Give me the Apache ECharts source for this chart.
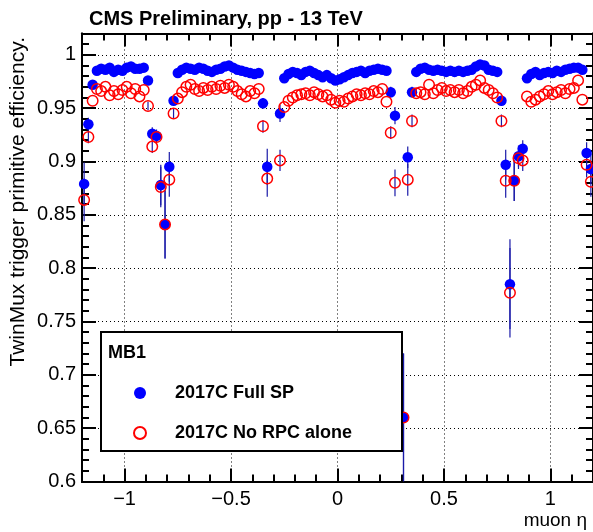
<!DOCTYPE html>
<html>
<head>
<meta charset="utf-8">
<script src="https://cdn.jsdelivr.net/npm/echarts@6/dist/echarts.min.js"></script>
<style>
html,body{margin:0;padding:0;background:#fff;}
#chart{width:593px;height:532px;}
</style>
</head>
<body>
<div id="chart"></div>
<script>
// ---- data ----
const chartTitle = "CMS Preliminary, pp - 13 TeV";
const yTitle = "TwinMux trigger primitive efficiency.";
const xTitle = "muon \u03b7";
const legendHeader = "MB1";
const seriesNames = ["2017C Full SP", "2017C No RPC alone"];

const xTicks = [-1, -0.5, 0, 0.5, 1];
const yTicks = [0.6, 0.65, 0.7, 0.75, 0.8, 0.85, 0.9, 0.95, 1.0];

const etaBins = [
  -1.19,-1.17,-1.15,-1.13,-1.11,-1.09,-1.07,-1.05,-1.03,-1.01,
  -0.99,-0.97,-0.95,-0.93,-0.91,-0.89,-0.87,-0.85,-0.83,-0.81,
  -0.79,-0.77,-0.75,-0.73,-0.71,-0.69,-0.67,-0.65,-0.63,-0.61,
  -0.59,-0.57,-0.55,-0.53,-0.51,-0.49,-0.47,-0.45,-0.43,-0.41,
  -0.39,-0.37,-0.35,-0.33,-0.31,-0.29,-0.27,-0.25,-0.23,-0.21,
  -0.19,-0.17,-0.15,-0.13,-0.11,-0.09,-0.07,-0.05,-0.03,-0.01,
   0.01, 0.03, 0.05, 0.07, 0.09, 0.11, 0.13, 0.15, 0.17, 0.19,
   0.21, 0.23, 0.25, 0.27, 0.29, 0.31, 0.33, 0.35, 0.37, 0.39,
   0.41, 0.43, 0.45, 0.47, 0.49, 0.51, 0.53, 0.55, 0.57, 0.59,
   0.61, 0.63, 0.65, 0.67, 0.69, 0.71, 0.73, 0.75, 0.77, 0.79,
   0.81, 0.83, 0.85, 0.87, 0.89, 0.91, 0.93, 0.95, 0.97, 0.99,
   1.01, 1.03, 1.05, 1.07, 1.09, 1.11, 1.13, 1.15, 1.17, 1.19
];

const fullSP = [
  0.879,0.935,0.972,0.985,0.987,0.986,0.988,0.984,0.986,0.985,
  0.988,0.989,0.987,0.987,0.988,0.976,0.926,0.924,0.878,0.841,
  0.895,0.957,0.983,0.986,0.988,0.987,0.986,0.988,0.987,0.985,
  0.984,0.986,0.987,0.989,0.990,0.988,0.986,0.985,0.984,0.983,
  0.982,0.983,0.9545,0.895,null,null,0.945,0.978,0.982,0.984,
  0.983,0.981,0.984,0.985,0.983,0.981,0.979,0.981,0.978,0.976,
  0.977,0.979,0.981,0.983,0.984,0.985,0.983,0.985,0.986,0.987,
  0.986,0.985,0.965,0.943,null,0.660,0.904,0.965,0.984,0.987,
  0.988,0.986,0.985,0.986,0.985,0.984,0.985,0.984,0.985,0.984,
  0.985,0.986,0.989,0.991,0.990,0.986,0.985,0.984,0.957,0.897,
  0.785,0.882,0.905,0.912,0.978,0.982,0.984,0.981,0.983,0.984,
  0.983,0.985,0.984,0.986,0.987,0.988,0.988,0.986,0.908,0.893
];
const fullSPErr = [
  0.02,0.006,0,0,0,0,0,0,0,0,
  0,0,0,0,0,0.004,0.006,0.006,0.019,0.032,
  0.014,0.005,0,0,0,0,0,0,0,0,
  0,0,0,0,0,0,0,0,0,0,
  0,0,0.005,0.017,0,0,0.008,0,0,0,
  0,0,0,0,0,0,0,0,0,0,
  0,0,0,0,0,0,0,0,0,0,
  0,0,0.005,0.008,0,0.06,0.01,0.005,0,0,
  0,0,0,0,0,0,0,0,0,0,
  0,0,0,0,0,0,0,0,0.005,0.014,
  0.042,0.019,0.01,0.008,0,0,0,0,0,0,
  0,0,0,0,0,0,0,0,0.01,0.014
];
const noRPC = [
  0.864,0.923,0.957,0.968,0.966,0.970,0.962,0.966,0.963,0.967,
  0.970,0.964,0.968,0.961,0.967,0.952,0.914,0.923,0.876,0.841,
  0.883,0.945,0.959,0.965,0.970,0.972,0.968,0.966,0.969,0.967,
  0.970,0.968,0.971,0.969,0.972,0.970,0.966,0.963,0.961,0.966,
  0.964,0.968,0.933,0.884,null,null,0.901,0.951,0.957,0.960,
  0.962,0.963,0.964,0.962,0.965,0.963,0.961,0.962,0.958,0.955,
  0.957,0.956,0.959,0.961,0.963,0.962,0.964,0.963,0.966,0.965,
  0.968,0.956,0.927,0.880,null,0.660,0.883,0.938,0.964,0.965,
  0.963,0.972,0.964,0.967,0.969,0.966,0.967,0.965,0.967,0.964,
  0.966,0.970,0.972,0.976,0.969,0.967,0.964,0.960,0.938,0.882,
  0.777,0.882,0.903,0.901,0.961,0.956,0.958,0.961,0.963,0.966,
  0.963,0.965,0.967,0.964,0.968,0.969,0.976,0.958,0.897,0.881
];
const noRPCErr = [
  0.02,0.006,0,0,0,0,0,0,0,0,
  0,0,0,0,0,0.004,0.006,0.006,0.019,0.032,
  0.016,0.005,0,0,0,0,0,0,0,0,
  0,0,0,0,0,0,0,0,0,0,
  0,0,0.006,0.017,0,0,0.01,0,0,0,
  0,0,0,0,0,0,0,0,0,0,
  0,0,0,0,0,0,0,0,0,0,
  0,0,0.006,0.0125,0,0.06,0.015,0.006,0,0,
  0,0,0,0,0,0,0,0,0,0,
  0,0,0,0,0,0,0,0,0.006,0.016,
  0.042,0.019,0.01,0.01,0,0,0,0,0,0,
  0,0,0,0,0,0,0,0,0.012,0.014
];

// ---- chart ----
const FONT = "'Liberation Sans', Arial, Helvetica, sans-serif";
const xMin = -1.2, xMax = 1.2, yMin = 0.6, yMax = 1.02;

function points(vals) {
  const out = [];
  etaBins.forEach((e, i) => { if (vals[i] != null) out.push([e, vals[i]]); });
  return out;
}
function bars(vals, errs) {
  const out = [];
  etaBins.forEach((e, i) => {
    if (vals[i] != null && errs[i] > 0) out.push([e, vals[i] - errs[i], vals[i] + errs[i]]);
  });
  return out;
}
function errRender(params, api) {
  const x = api.value(0);
  const lo = api.coord([x, api.value(1)]);
  const hi = api.coord([x, api.value(2)]);
  return { type: 'line', shape: { x1: lo[0], y1: lo[1], x2: hi[0], y2: hi[1] },
           style: { stroke: '#1a1aa8', lineWidth: 1.2 } };
}
const fmt = v => String(Math.round(v * 100) / 100).replace('-', '\u2212');

const axisLine = { show: true, onZero: false, lineStyle: { color: '#000', width: 2 } };
const grid = { left: 82, top: 33.5, width: 511.6, height: 448 };

function xAx(pos, major, main) {
  const a = { type: 'value', position: pos, min: xMin, max: xMax, gridIndex: 0,
    axisLine: axisLine,
    axisTick: { show: true, inside: true, length: major ? 13 : 7, lineStyle: { color: '#000', width: 2 } },
    axisLabel: { show: false }, splitLine: { show: false } };
  if (major) a.axisTick.customValues = xTicks; else a.interval = 0.1;
  if (main) {
    a.axisLabel = { show: true, customValues: xTicks, formatter: fmt, margin: 8,
      color: '#000', fontFamily: FONT, fontSize: 20 };
    a.splitLine = { show: true, lineStyle: { type: [1, 3], color: '#000', width: 1 } };
  }
  return a;
}
function yAx(pos, major, main) {
  const a = { type: 'value', position: pos, min: yMin, max: yMax, gridIndex: 0,
    axisLine: axisLine,
    axisTick: { show: true, inside: true, length: major ? 14 : 7, lineStyle: { color: '#000', width: 2 } },
    axisLabel: { show: false }, splitLine: { show: false } };
  if (major) a.axisTick.customValues = yTicks; else a.interval = 0.01;
  if (main) {
    a.axisLabel = { show: true, customValues: yTicks, formatter: fmt, margin: 6,
      color: '#000', fontFamily: FONT, fontSize: 20 };
    a.splitLine = { show: true, lineStyle: { type: [1, 3], color: '#000', width: 1 } };
  }
  return a;
}

const chart = echarts.init(document.getElementById('chart'), null, { renderer: 'canvas' });
chart.setOption({
  animation: false,
  backgroundColor: '#fff',
  title: { text: chartTitle, left: 84, top: 4,
    textStyle: { fontFamily: FONT, fontWeight: 'bold', fontSize: 20, color: '#000' } },
  grid: grid,
  xAxis: [xAx('bottom', true, true), xAx('bottom', false, false), xAx('top', true, false), xAx('top', false, false)],
  yAxis: [yAx('left', true, true), yAx('left', false, false), yAx('right', true, false), yAx('right', false, false)],
  legend: {
    show: true, z: 60, orient: 'vertical', left: 128, top: 379, itemGap: 22,
    itemWidth: 12, itemHeight: 12, selectedMode: false,
    textStyle: { fontFamily: FONT, fontWeight: 'bold', fontSize: 18, color: '#000', padding: [0, 0, 0, 24] },
    data: seriesNames
  },
  graphic: [
    { type: 'rect', z: 50, shape: { x: 101, y: 332, width: 301, height: 119 },
      style: { fill: '#fff', stroke: '#000', lineWidth: 2 } },
    { type: 'text', z: 51, x: 108, y: 353,
      style: { text: legendHeader, fontFamily: FONT, fontWeight: 'bold', fontSize: 18, fill: '#000', verticalAlign: 'middle' } },
    { type: 'text', z: 51, x: 18, y: 37, rotation: Math.PI / 2,
      style: { text: yTitle, fontFamily: FONT, fontSize: 21, fill: '#000', align: 'right', verticalAlign: 'middle' } },
    { type: 'text', z: 51, x: 587, y: 521,
      style: { text: xTitle, fontFamily: FONT, fontSize: 19, fill: '#000', align: 'right', verticalAlign: 'middle' } }
  ],
  series: [
    { type: 'custom', name: 'fullSPErr', xAxisIndex: 0, yAxisIndex: 0, clip: true,
      renderItem: errRender, data: bars(fullSP, fullSPErr), silent: true },
    { type: 'scatter', name: seriesNames[0], xAxisIndex: 0, yAxisIndex: 0, clip: false,
      symbol: 'circle', symbolSize: 10.5, itemStyle: { color: '#0000ff', opacity: 1 }, data: points(fullSP) },
    { type: 'custom', name: 'noRPCErr', xAxisIndex: 0, yAxisIndex: 0, clip: true,
      renderItem: errRender, data: bars(noRPC, noRPCErr), silent: true },
    { type: 'scatter', name: seriesNames[1], xAxisIndex: 0, yAxisIndex: 0, clip: false,
      symbol: 'circle', symbolSize: 10.5,
      itemStyle: { color: 'rgba(255,255,255,0)', borderColor: '#ff0000', borderWidth: 1.5, opacity: 1 },
      data: points(noRPC) }
  ]
});
</script>
</body>
</html>
